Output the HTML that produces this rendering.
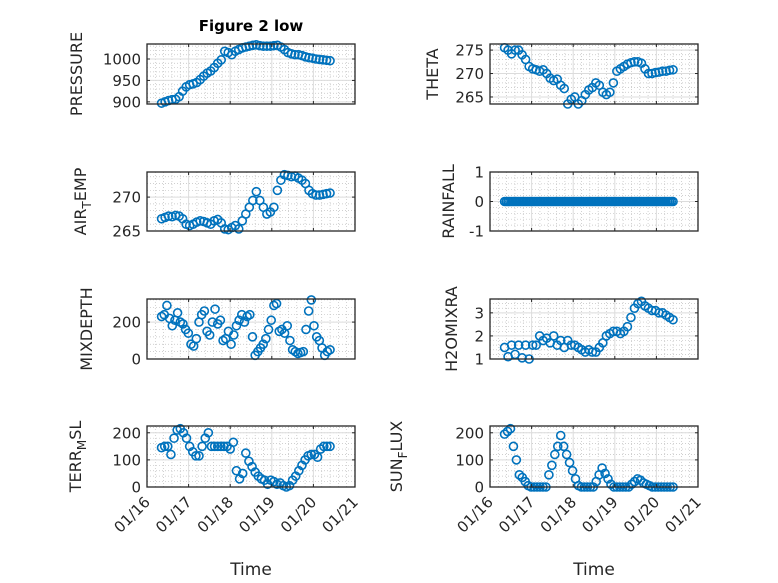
<!DOCTYPE html>
<html><head><meta charset="utf-8"><style>
html,body{margin:0;padding:0;background:#fff;}
svg{display:block;font-family:"DejaVu Sans","Liberation Sans",sans-serif;}
</style></head><body>
<svg id="fig" width="778" height="583" viewBox="0 0 778 583">
<rect width="778" height="583" fill="#fff"/>
<text x="251" y="31" text-anchor="middle" font-size="15" font-weight="bold" fill="#000">Figure 2 low</text>
</svg>
<script>
const xTickLabels=["01/16","01/17","01/18","01/19","01/20","01/21"];
const tStart=16.35, tEnd=20.4;
const pressure=[897,900,903,905,906,912,925,935,940,942,945,952,960,967,972,980,990,998,1018,1015,1010,1018,1022,1026,1028,1030,1032,1033,1031,1030,1030,1030,1031,1032,1028,1022,1015,1012,1010,1010,1008,1005,1003,1002,1000,999,998,997,996];
const theta=[275.5,275,274.2,275,275,274,273,271.5,271,270.8,270.5,270.8,270,269,268.5,268.8,267.5,266.8,263.5,264.5,265,263.5,264.2,265.5,266.5,267,268,267.5,266,265.5,266,268,270.5,271,271.5,272,272.3,272.5,272.5,272.2,271,270,270,270.2,270.3,270.5,270.5,270.7,270.8];
const airTemp=[266.8,267,267.2,267.1,267.3,267.2,266.8,266,265.8,266,266.3,266.5,266.4,266.2,266,266.5,266.7,266.2,265.3,265.2,265.5,265.8,265.3,266.5,267.5,268.5,269.5,270.8,269.5,268.5,267.5,267.8,268.5,271,272.5,273.3,273.2,273,273.1,272.8,272.5,272,271,270.5,270.3,270.3,270.4,270.5,270.6];
const rainfall=[0,0,0,0,0,0,0,0,0,0,0,0,0,0,0,0,0,0,0,0,0,0,0,0,0,0,0,0,0,0,0,0,0,0,0,0,0,0,0,0,0,0,0,0,0,0,0,0,0,0,0,0,0,0,0,0,0,0,0,0,0,0,0,0,0,0,0,0,0,0,0,0,0,0,0,0,0,0,0,0,0,0,0,0,0,0,0,0,0,0,0,0,0,0,0,0,0];
const mixDepth=[230,240,290,220,180,210,250,200,190,160,140,80,70,110,200,240,260,150,130,200,270,190,210,100,110,150,80,130,180,210,240,200,230,240,120,20,40,60,80,110,160,210,290,300,150,160,140,180,100,50,40,30,35,40,160,260,320,180,120,100,60,20,40,50];
const h2oMix=[1.5,1.1,1.6,1.2,1.6,1.05,1.6,1.0,1.6,1.6,2.0,1.8,1.9,1.7,2.0,1.6,1.8,1.5,1.8,1.6,1.6,1.5,1.4,1.3,1.4,1.3,1.3,1.5,1.7,2.0,2.1,2.2,2.2,2.1,2.2,2.4,2.8,3.2,3.4,3.5,3.3,3.2,3.1,3.1,3.0,3.0,2.9,2.8,2.7];
const terrMsl=[145,150,150,120,180,210,215,200,180,150,130,115,115,150,180,200,150,150,150,150,150,150,140,165,60,30,50,125,95,75,55,40,30,25,10,25,20,10,15,5,0,5,25,40,60,80,100,115,120,120,110,140,150,150,150];
const sunFlux=[195,205,215,150,100,45,35,20,5,0,0,0,0,0,0,45,80,120,150,190,150,120,90,60,30,5,0,0,0,0,0,20,45,70,50,30,10,0,0,0,0,0,0,10,20,30,25,15,10,5,0,0,0,0,0,0,0,0];
const pressureTicks=[900,950,1000], thetaTicks=[265,270,275], airTicks=[265,270], rainTicks=[-1,0,1], mixTicks=[0,200], h2oTicks=[1,2,3], terrTicks=[0,100,200], sunTicks=[0,100,200];

const NS="http://www.w3.org/2000/svg";
const svg=document.getElementById('fig');
function mk(tag,attrs,parent){const e=document.createElementNS(NS,tag);for(const k in attrs)e.setAttribute(k,attrs[k]);(parent||svg).appendChild(e);return e;}
const L=[147,355],R=[490,698];
const rows=[[44,104],[172,231],[299,359],[426,487]];
const panels=[
 {id:'pressure',data:pressure,ticks:pressureTicks,y:[895,1035],minor:10,col:L,row:0,lab:['PRESSURE'],lx:82},
 {id:'theta',data:theta,ticks:thetaTicks,y:[263.5,276.3],minor:1,col:R,row:0,lab:['THETA'],lx:438},
 {id:'air-temp',data:airTemp,ticks:airTicks,y:[265,273.7],minor:1,col:L,row:1,lab:['AIR','T','EMP'],lx:86},
 {id:'rainfall',data:rainfall,ticks:rainTicks,y:[-1,1],minor:0.2,col:R,row:1,lab:['RAINFALL'],lx:454},
 {id:'mixdepth',data:mixDepth,ticks:mixTicks,y:[0,325],minor:40,col:L,row:2,lab:['MIXDEPTH'],lx:92},
 {id:'h2omixra',data:h2oMix,ticks:h2oTicks,y:[1,3.6],minor:0.2,col:R,row:2,lab:['H2OMIXRA'],lx:457},
 {id:'terr-msl',data:terrMsl,ticks:terrTicks,y:[0,225],minor:20,col:L,row:3,lab:['TERR','M','SL'],lx:81},
 {id:'sun-flux',data:sunFlux,ticks:sunTicks,y:[0,225],minor:20,col:R,row:3,lab:['SUN','F','LUX'],lx:402}
];
panels.forEach(p=>{
  const x0=p.col[0],x1=p.col[1],y0=rows[p.row][0],y1=rows[p.row][1];
  const g=mk('g',{});
  
  
  const sx=t=>x0+(t-16)/5*(x1-x0);
  const sy=v=>y1-(v-p.y[0])/(p.y[1]-p.y[0])*(y1-y0);
  mk('rect',{x:x0,y:y0,width:x1-x0,height:y1-y0,fill:'#fff'},g);
  for(let d=16;d<21;d+=0.2){const xx=sx(d);if(Math.abs((d+1e-6)%1)<0.01)continue;mk('line',{x1:xx,x2:xx,y1:y0,y2:y1,stroke:'#c0c0c0','stroke-width':0.7,'stroke-dasharray':'1 2'},g);}
  const mstart=Math.ceil(p.y[0]/p.minor)*p.minor;
  for(let v=mstart;v<=p.y[1]+1e-9;v+=p.minor){const yy=sy(v);mk('line',{x1:x0,x2:x1,y1:yy,y2:yy,stroke:'#c0c0c0','stroke-width':0.7,'stroke-dasharray':'1 2'},g);}
  for(let d=17;d<21;d++){const xx=sx(d);mk('line',{x1:xx,x2:xx,y1:y0,y2:y1,stroke:'#dcdcdc','stroke-width':1},g);}
  p.ticks.forEach(v=>{const yy=sy(v);mk('line',{x1:x0,x2:x1,y1:yy,y2:yy,stroke:'#dcdcdc','stroke-width':1},g);});
  const n=p.data.length;
  p.data.forEach((v,i)=>{const t=tStart+i*(tEnd-tStart)/(n-1);
    const c=mk('circle',{cx:sx(t),cy:sy(v),r:4,fill:'none',stroke:'#0072BD','stroke-width':1.6},g);
    
    });
  mk('rect',{x:x0,y:y0,width:x1-x0,height:y1-y0,fill:'none',stroke:'#262626','stroke-width':1.3},g);
  for(let d=16;d<=21;d++){const xx=sx(d);mk('line',{x1:xx,x2:xx,y1:y1,y2:y1-3,stroke:'#262626'},g);mk('line',{x1:xx,x2:xx,y1:y0,y2:y0+3,stroke:'#262626'},g);}
  p.ticks.forEach(v=>{const yy=sy(v);mk('line',{x1:x0,x2:x0+3,y1:yy,y2:yy,stroke:'#262626'},g);mk('line',{x1:x1,x2:x1-3,y1:yy,y2:yy,stroke:'#262626'},g);
    const t=mk('text',{x:x0-6,y:yy+5.5,'text-anchor':'end','font-size':15,fill:'#262626'},g);t.textContent=String(v);
    
    });
  const cy=(y0+y1)/2;
  const yl=mk('text',{x:0,y:0,'text-anchor':'middle','font-size':16,fill:'#262626',transform:`translate(${p.lx},${cy}) rotate(-90)`},g);
  
  
  if(p.lab.length===1){yl.textContent=p.lab[0];}
  else{const a=mk('tspan',{},yl);a.textContent=p.lab[0];const b=mk('tspan',{dy:5,'font-size':12},yl);b.textContent=p.lab[1];const c=mk('tspan',{dy:-5},yl);c.textContent=p.lab[2];}
  if(p.row===3){
    xTickLabels.forEach((s,i)=>{const xx=sx(16+i);
      const t=mk('text',{x:0,y:0,'text-anchor':'end','font-size':15,fill:'#262626',transform:`translate(${xx+4},${y1+16}) rotate(-45)`},g);t.textContent=s;
      
      });
    const tl=mk('text',{x:(x0+x1)/2,y:575,'text-anchor':'middle','font-size':17,fill:'#262626'},g);tl.textContent='Time';
    
    
  }
});
</script>
</body></html>
